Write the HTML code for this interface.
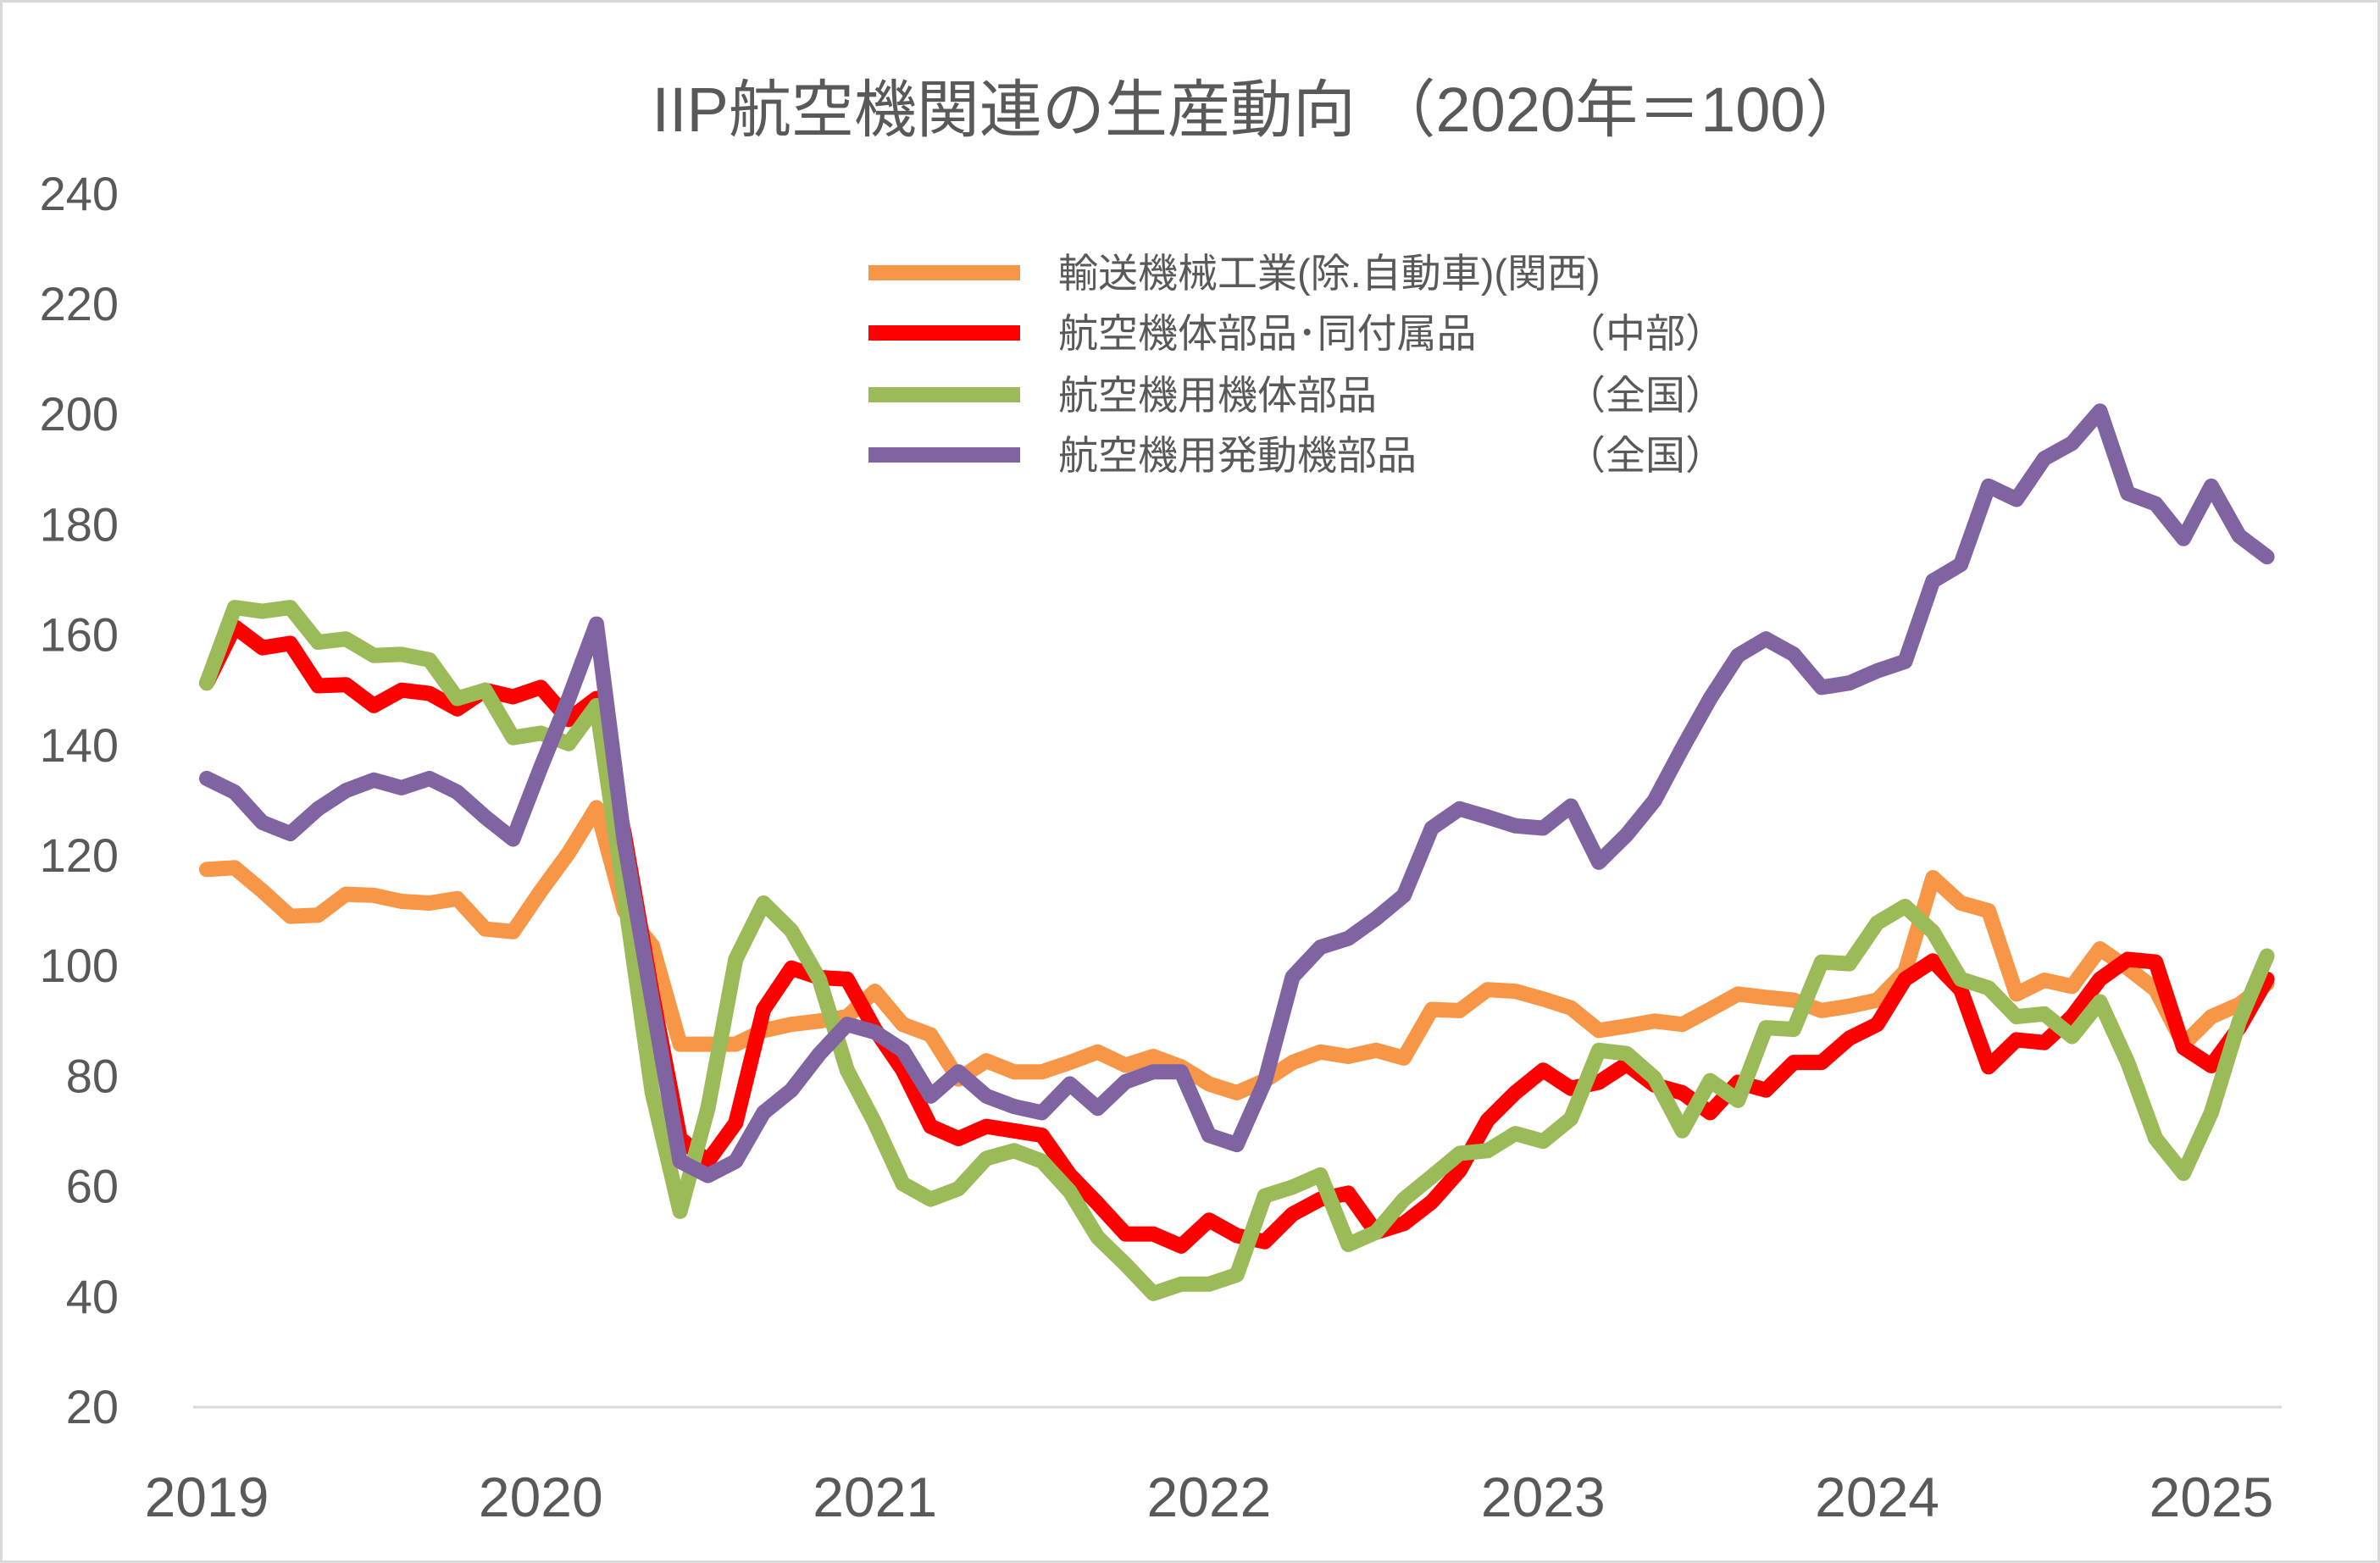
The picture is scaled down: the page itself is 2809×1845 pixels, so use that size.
<!DOCTYPE html>
<html><head><meta charset="utf-8">
<style>
html,body{margin:0;padding:0;background:#fff;}
svg{display:block;}
text{font-family:"Liberation Sans","Noto Sans CJK JP",sans-serif;fill:#595959;}
</style></head>
<body>
<svg id="chart" width="2809" height="1845" viewBox="0 0 2809 1845" xmlns="http://www.w3.org/2000/svg">
<rect x="1.5" y="1.5" width="2806" height="1842" fill="#fff" stroke="#d9d9d9" stroke-width="3"/>
<text x="1487" y="155" font-size="74" text-anchor="middle">IIP航空機関連の生産動向 （2020年＝100）</text>
<g id="yaxis"></g>
<g id="xaxis"></g>
<g id="series"></g>
<g id="legend"></g>
</svg>
<script>
const yTicks = [20,40,60,80,100,120,140,160,180,200,220,240];
const xLabels = ["2019","2020","2021","2022","2023","2024","2025"];
const seriesNames = ["輸送機械工業(除.自動車)(関西)","航空機体部品･同付属品","航空機用機体部品","航空機用発動機部品"];
const seriesRegions = ["","（中部）","（全国）","（全国）"];
const seriesColors = ["#f79646","#ff0000","#9bbb59","#8064a2"];
const kansai = [117.5,117.8,113.6,109,109.2,113,112.8,111.7,111.4,112.2,106.7,106.2,113.6,120.5,128.7,110,103.7,85.8,85.8,85.8,88.3,89.4,90,90.8,95.4,89.4,87.5,79.5,82.8,80.8,80.8,82.5,84.4,82,83.6,81.7,78.6,77,79.2,82.5,84.4,83.6,84.7,83.3,92.1,91.9,95.7,95.4,94,92.4,88.3,89.1,90,89.4,92.1,94.9,94.3,93.8,91.9,92.7,93.8,99,116,111.4,110,94.9,97.4,96.3,103.1,99.6,95.7,85.8,90.8,93,96.8];
const chubu = [151.3,161.5,157.7,158.5,150.8,151,147.2,150,149.4,146.6,150,148.8,150.5,144.7,148.5,123.8,94.9,68.7,64.6,71.5,92.1,99.6,97.9,97.6,88.5,81.1,70.9,68.7,70.9,70.1,69.3,62.1,56.9,51.4,51.4,49.2,53.9,51.1,50,55,57.7,58.8,51.7,53.3,57.2,62.9,72,77,81.1,77.8,78.9,82.2,78.4,77,73.4,78.9,77.5,82.5,82.5,86.9,89.4,97.6,100.9,95.7,81.7,86.6,86.1,90.8,97.6,101.2,100.7,85.2,81.9,88.8,97.6];
const airframe = [151.3,165,164.3,165,158.7,159.3,156.3,156.5,155.5,148.5,150,141.4,142.2,140.3,147.2,112.8,77,55.5,74.2,101.2,111.4,106.4,97.6,81.1,71.5,60.5,57.7,59.6,65.1,66.5,64.6,59.1,50.8,45.9,40.6,42.3,42.3,44,58.3,59.9,62.1,49.5,51.7,57.7,61.8,66,66.5,69.6,68.2,72.3,84.7,84.1,79.7,70.1,79.2,75.6,88.8,88.5,100.7,100.4,107.8,110.8,106.2,97.6,96,90.8,91.3,87.2,93.5,82.5,68.7,62.4,73.4,89.9,101.8];
const engine = [134,131.5,126,124,128.5,131.8,133.7,132.3,134,131.5,127,123,136,148.5,162,122.5,93.5,64.6,62,64.6,73.4,77.5,84,89.4,88,84.7,76.4,80.8,76.4,74.5,73.4,78.6,74.2,79,80.8,80.8,69.3,67.6,79,98,103.4,105,108.6,112.8,125,128.5,127,125.4,125,129,118.8,123.8,130,139.5,148.5,156.3,159.3,156.5,150.5,151.3,153.5,155.2,169.8,172.8,187,184.6,192,194.8,200.6,185.7,183.8,177.5,187,178,174.2];

const NS="http://www.w3.org/2000/svg";
const X0=244, DX=32.86, YB=1661, PER=6.51;
function xPos(i){return X0+i*DX;}
function yPos(v){return YB-(v-20)*PER;}
function mk(tag,attrs,parent){const e=document.createElementNS(NS,tag);for(const k in attrs)e.setAttribute(k,attrs[k]);parent.appendChild(e);return e;}

const yG=document.getElementById('yaxis');
yTicks.forEach(v=>{
  const t=mk('text',{x:140,y:yPos(v)+19,'font-size':56,'text-anchor':'end'},yG);
  
  
  t.textContent=v;
});
const xG=document.getElementById('xaxis');
const ax=mk('line',{x1:228,x2:2693,y1:YB,y2:YB,stroke:'#d9d9d9','stroke-width':3},xG);


xLabels.forEach((l,k)=>{
  const t=mk('text',{x:xPos(k*12),y:1790,'font-size':66,'text-anchor':'middle'},xG);
  
  
  t.textContent=l;
});

const sG=document.getElementById('series');
const allData=[kansai,chubu,airframe,engine];
const sNames=['line-kansai-transport','line-chubu-airframe-parts','line-national-airframe','line-national-engine'];
allData.forEach((arr,s)=>{
  const pts=arr.map((v,i)=>xPos(i).toFixed(1)+','+yPos(v).toFixed(1)).join(' ');
  const p=mk('polyline',{points:pts,fill:'none',stroke:seriesColors[s],'stroke-width':18,'stroke-linejoin':'round','stroke-linecap':'round'},sG);
  
  
});

const lG=document.getElementById('legend');
const rowsY=[322,393,466,537];
seriesNames.forEach((n,s)=>{
  const ln=mk('line',{x1:1025,x2:1204,y1:rowsY[s],y2:rowsY[s],stroke:seriesColors[s],'stroke-width':18},lG);
  
  
  const t=mk('text',{x:1249,y:rowsY[s]+17,'font-size':47},lG);
  
  
  t.textContent=n;
  if(seriesRegions[s]){
    const r=mk('text',{x:1848,y:rowsY[s]+17,'font-size':47},lG);
    
    
    r.textContent=seriesRegions[s];
  }
});
</script>
</body></html>
